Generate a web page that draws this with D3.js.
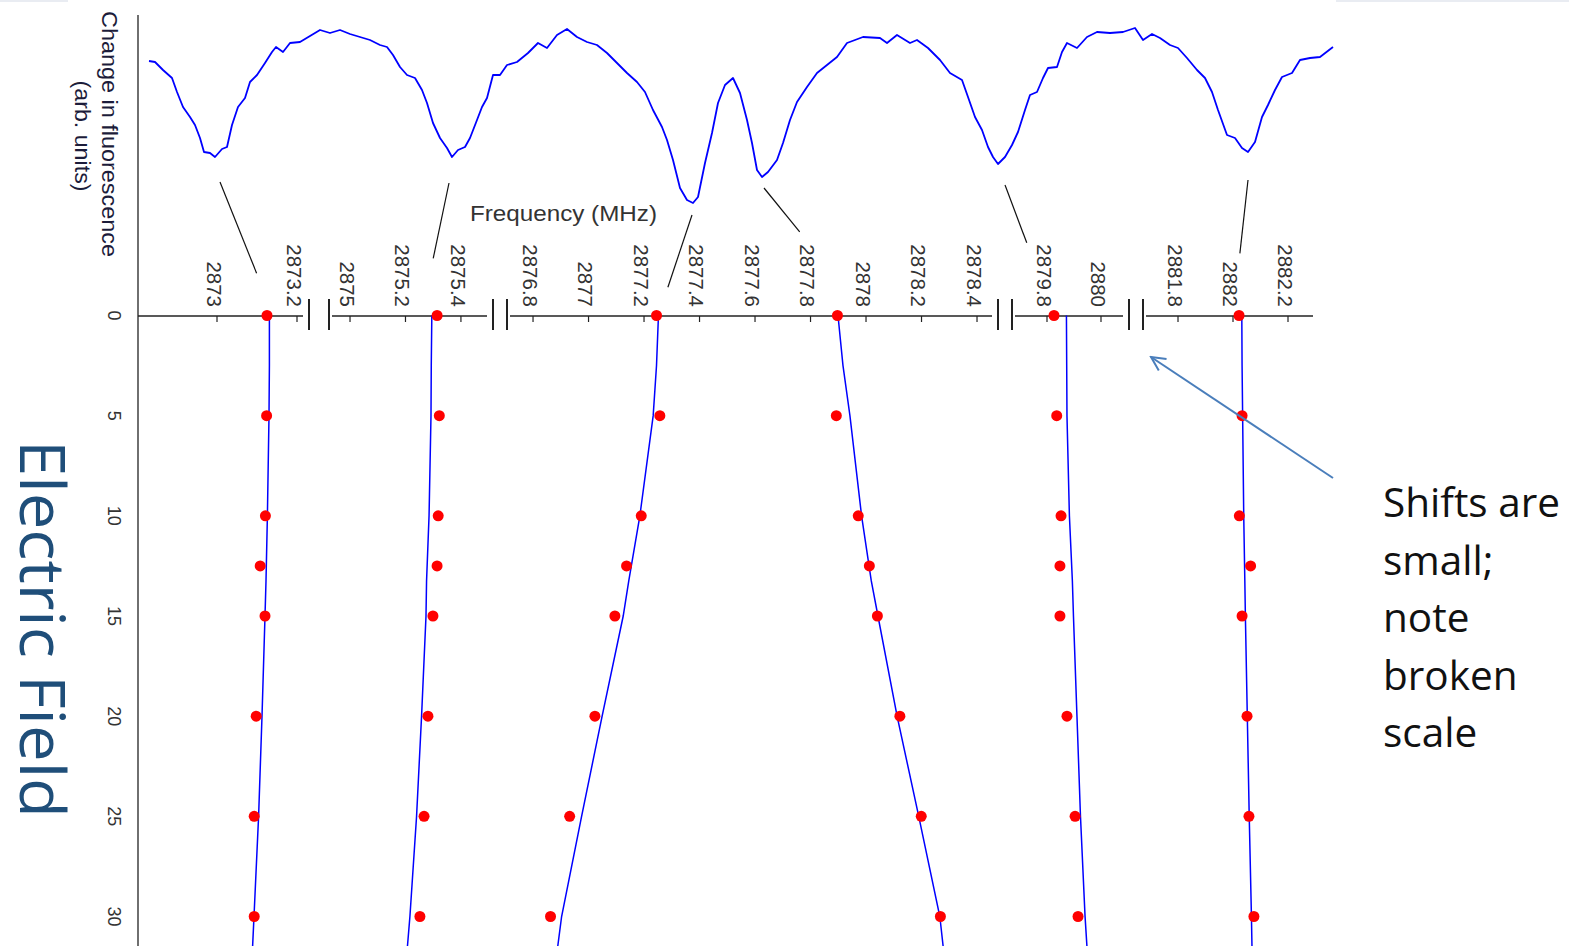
<!DOCTYPE html>
<html>
<head>
<meta charset="utf-8">
<script src="https://cdnjs.cloudflare.com/ajax/libs/d3/7.8.5/d3.min.js"></script>
<style>
  body { margin: 0; background: #fff; }
  svg { display: block; }
</style>
</head>
<body>
<svg id="chart"></svg>
<script>
// Field values (arb.) where peaks were measured
var fieldValues = [0, 5, 10, 12.5, 15, 20, 25, 30];
var fitFields = [0, 2.5, 5, 10, 13.25, 15, 20, 25, 30, 31.5];
var fieldTicks = [0, 5, 10, 15, 20, 25, 30];

// Measured peak positions (MHz), one array per resonance
var peak1 = [2873.125, 2873.124, 2873.121, 2873.108, 2873.120, 2873.098, 2873.093, 2873.093];
var peak2 = [2875.314, 2875.322, 2875.318, 2875.314, 2875.299, 2875.281, 2875.267, 2875.252];
var peak3 = [2877.245, 2877.257, 2877.190, 2877.137, 2877.095, 2877.023, 2876.932, 2876.863];
var peak4 = [2877.897, 2877.893, 2877.972, 2878.012, 2878.041, 2878.122, 2878.199, 2878.268];
var peak5 = [2879.826, 2879.836, 2879.852, 2879.848, 2879.848, 2879.874, 2879.904, 2879.915];
var peak6 = [2882.022, 2882.033, 2882.023, 2882.064, 2882.033, 2882.051, 2882.058, 2882.076];

// Fitted curves (MHz) at fitFields
var fit1 = [2873.131, 2873.131, 2873.130, 2873.126, 2873.1225, 2873.120, 2873.1125, 2873.104, 2873.0925, 2873.089];
var fit2 = [2875.295, 2875.293, 2875.292, 2875.285, 2875.276, 2875.274, 2875.258, 2875.240, 2875.216, 2875.207];
var fit3 = [2877.252, 2877.245, 2877.233, 2877.185, 2877.145, 2877.125, 2877.049, 2876.975, 2876.903, 2876.889];
var fit4 = [2877.899, 2877.917, 2877.942, 2877.984, 2878.019, 2878.043, 2878.112, 2878.190, 2878.266, 2878.278];
var fit5 = [2879.872, 2879.873, 2879.874, 2879.883, 2879.894, 2879.898, 2879.911, 2879.924, 2879.941, 2879.948];
var fit6 = [2882.032, 2882.033, 2882.035, 2882.039, 2882.043, 2882.045, 2882.052, 2882.059, 2882.067, 2882.069];

// Broken frequency axis: domains and tick labels per piece
var segDomains = [[2872.8025, 2873.215], [2874.935, 2875.494], [2876.717, 2878.454], [2879.6815, 2880.0815], [2881.6836, 2882.2909]];
var segTicks = [[2873, 2873.2], [2875, 2875.2, 2875.4],
  [2876.8, 2877, 2877.2, 2877.4, 2877.6, 2877.8, 2878, 2878.2, 2878.4],
  [2879.8, 2880], [2881.8, 2882, 2882.2]];

// Fluorescence sweep: [sweep step, signal]
var spectrum = [[0,142],[6,141],[14,133],[23,125],[28,111],[34,96],[41,86],[46,78],[51,65],[55,51],
  [61,50],[66,46],[73,54],[78,56],[83,78],[89,96],[96,105],[101,121],[108,128],[116,140],
  [123,151],[127,156],[134,151],[141,160],[151,161],[161,167],[171,173],[181,170],[191,173],[201,169],
  [211,166],[221,163],[231,158],[238,156],[244,148],[251,136],[258,128],[266,125],[273,113],[278,100],
  [284,80],[291,65],[298,55],[303,46],[309,53],[316,56],[321,65],[328,83],[333,96],[338,105],
  [344,128],[351,128],[358,138],[368,141],[379,150],[389,160],[398,155],[408,168],[418,174],[428,166],
  [438,161],[448,158],[458,150],[468,140],[478,130],[488,121],[496,111],[504,93],[513,76],[518,63],
  [524,43],[531,15],[538,3],[544,0],[549,6],[556,40],[563,70],[569,100],[576,118],[584,125],
  [591,110],[598,83],[603,60],[608,33],[613,26],[619,31],[628,43],[634,60],[641,83],[648,101],
  [658,116],[668,130],[678,138],[688,146],[698,160],[714,166],[731,165],[738,160],[748,168],[761,160],
  [768,163],[779,155],[791,143],[801,130],[813,123],[819,106],[826,86],[833,73],[839,56],[844,46],
  [849,39],[856,46],[863,58],[869,71],[876,93],[881,108],[888,111],[894,125],[899,135],[908,136],
  [913,151],[918,160],[928,155],[938,166],[948,171],[961,170],[974,171],[986,175],[994,163],[1003,169],
  [1011,165],[1021,158],[1029,155],[1038,145],[1048,133],[1056,125],[1063,111],[1069,93],[1078,68],[1086,65],
  [1093,55],[1099,51],[1106,61],[1113,86],[1119,98],[1126,113],[1133,126],[1143,130],[1151,143],[1161,145],
  [1171,146],[1184,156]];

// Links from each dip to its zero-field line: [sweep, signal, MHz, field]
var dipLinks = [[71, 33, 2873.099, -2.11], [300, 32, 2875.300, -2.85], [543, 0, 2877.286, -1.41],
  [615, 27, 2877.761, -4.18], [856, 30, 2879.725, -3.63], [1099, 35, 2882.025, -3.10]];

var noteLines = ['Shifts are', 'small;', 'note', 'broken', 'scale'];

var w = 1569, h = 946;
var axisY = 316;
var segRanges = [[138, 303], [332, 487], [510, 992], [1015, 1123], [1146, 1313]];

var svg = d3.select('#chart')
    .attr('width', w)
    .attr('height', h)
    .attr('font-family', 'Liberation Sans, Arial, sans-serif');

// scales
var segScales = segDomains.map(function(d, i) {
  return d3.scaleLinear().domain(d).range(segRanges[i]);
});
function fx(f) {
  for (var i = 0; i < segScales.length; i++) {
    var d = segDomains[i];
    if (f >= d[0] - 0.05 && f <= d[1] + 0.05) return segScales[i](f);
  }
  return null;
}
var fy = d3.scaleLinear().domain([0, 30]).range([315.5, 916.5]);
var sx = d3.scaleLinear().domain([0, 1184]).range([149, 1333]);
var sy = d3.scaleLinear().domain([0, 175]).range([203, 28]);

// faint edges from the slide image
svg.append('rect').attr('x', 0).attr('y', 0).attr('width', 68).attr('height', 2).attr('fill', '#e9ecf2');
svg.append('rect').attr('x', 1336).attr('y', 0).attr('width', 233).attr('height', 2).attr('fill', '#e9ecf2');

// left axis line
svg.append('line')
    .attr('x1', 138).attr('x2', 138)
    .attr('y1', 15).attr('y2', h)
    .attr('stroke', '#222').attr('stroke-width', 1.3);

// y titles
var ytitle = svg.append('g')
    .attr('fill', '#1c1c3a')
    .attr('font-size', 22.5)
    .attr('text-anchor', 'middle');
ytitle.append('text')
    .attr('transform', 'translate(110,134) rotate(90)')
    .attr('dy', '0.35em')
    .attr('textLength', 246)
    .attr('lengthAdjust', 'spacingAndGlyphs')
    .text('Change in fluorescence');
ytitle.append('text')
    .attr('transform', 'translate(83,136) rotate(90)')
    .attr('dy', '0.35em')
    .attr('textLength', 111)
    .attr('lengthAdjust', 'spacingAndGlyphs')
    .text('(arb. units)');

// field tick labels
svg.append('g').selectAll('text')
    .data(fieldTicks)
    .enter()
    .append('text')
    .attr('transform', function(d) { return 'translate(114,' + fy(d) + ') rotate(90)'; })
    .attr('dy', '0.35em')
    .attr('text-anchor', 'middle')
    .attr('font-size', 18)
    .attr('fill', '#333')
    .text(function(d) { return d; });

// broken frequency axis
var xaxis = svg.append('g');
segScales.forEach(function(s, i) {
  var r = segRanges[i];
  xaxis.append('line')
      .attr('x1', r[0]).attr('x2', r[1])
      .attr('y1', axisY).attr('y2', axisY)
      .attr('stroke', '#222').attr('stroke-width', 1.3);
  xaxis.selectAll('.t' + i)
      .data(segTicks[i])
      .enter()
      .append('line')
      .attr('x1', function(d) { return s(d); })
      .attr('x2', function(d) { return s(d); })
      .attr('y1', axisY).attr('y2', axisY + 6)
      .attr('stroke', '#222').attr('stroke-width', 1.2);
  xaxis.selectAll('.l' + i)
      .data(segTicks[i])
      .enter()
      .append('text')
      .attr('transform', function(d) { return 'translate(' + (s(d) - 3) + ',307) rotate(90)'; })
      .attr('dy', '0.35em')
      .attr('text-anchor', 'end')
      .attr('font-size', 20.5)
      .attr('fill', '#333')
      .text(function(d) { return d; });
  // break marks
  if (i < segScales.length - 1) {
    [r[1] + 6, segRanges[i + 1][0] - 3].forEach(function(bx) {
      xaxis.append('line')
          .attr('x1', bx).attr('x2', bx)
          .attr('y1', 299).attr('y2', 330)
          .attr('stroke', '#222').attr('stroke-width', 2);
    });
  }
});

svg.append('text')
    .attr('x', 470).attr('y', 221)
    .attr('font-size', 22.5)
    .attr('fill', '#333')
    .attr('textLength', 187)
    .attr('lengthAdjust', 'spacingAndGlyphs')
    .text('Frequency (MHz)');

// spectrum trace
svg.append('path')
    .datum(spectrum)
    .attr('fill', 'none')
    .attr('stroke', '#0000ff')
    .attr('stroke-width', 1.8)
    .attr('stroke-linejoin', 'round')
    .attr('d', d3.line()
      .x(function(d) { return sx(d[0]); })
      .y(function(d) { return sy(d[1]); }));

// dip connectors
svg.append('g').selectAll('line')
    .data(dipLinks)
    .enter()
    .append('line')
    .attr('x1', function(d) { return sx(d[0]); })
    .attr('y1', function(d) { return sy(d[1]) + 12; })
    .attr('x2', function(d) { return fx(d[2]); })
    .attr('y2', function(d) { return fy(d[3]); })
    .attr('stroke', '#111')
    .attr('stroke-width', 1.2);

// fitted lines
var fits = [fit1, fit2, fit3, fit4, fit5, fit6];
var fitLine = d3.line()
    .x(function(d) { return fx(d); })
    .y(function(d, i) { return fy(fitFields[i]); });
svg.append('g').selectAll('path')
    .data(fits)
    .enter()
    .append('path')
    .attr('fill', 'none')
    .attr('stroke', '#0000ff')
    .attr('stroke-width', 1.5)
    .attr('d', fitLine);

// measured peaks
var peaks = [peak1, peak2, peak3, peak4, peak5, peak6];
var dots = [];
peaks.forEach(function(p) {
  p.forEach(function(f, i) { dots.push([f, fieldValues[i]]); });
});
svg.append('g').selectAll('circle')
    .data(dots)
    .enter()
    .append('circle')
    .attr('cx', function(d) { return fx(d[0]); })
    .attr('cy', function(d) { return fy(d[1]); })
    .attr('r', 5.5)
    .attr('fill', '#ff0000');

// big axis label
svg.append('text')
    .attr('transform', 'translate(20,629) rotate(90)')
    .attr('text-anchor', 'middle')
    .attr('font-family', 'Open Sans, sans-serif')
    .attr('font-size', 62)
    .attr('fill', '#1f4e79')
    .attr('textLength', 378)
    .attr('lengthAdjust', 'spacingAndGlyphs')
    .text('Electric Field');

// note with arrow
var defs = svg.append('defs');
defs.append('marker')
    .attr('id', 'arrow')
    .attr('markerUnits', 'userSpaceOnUse')
    .attr('viewBox', '0 0 18 18')
    .attr('markerWidth', 18).attr('markerHeight', 18)
    .attr('refX', 16).attr('refY', 9)
    .attr('orient', 'auto')
    .append('path')
    .attr('d', 'M2,2 L16,9 L2,16')
    .attr('fill', 'none')
    .attr('stroke', '#4a7ebb')
    .attr('stroke-width', 2);
svg.append('line')
    .attr('x1', 1333).attr('y1', 478)
    .attr('x2', 1151).attr('y2', 357)
    .attr('stroke', '#4a7ebb')
    .attr('stroke-width', 2)
    .attr('marker-end', 'url(#arrow)');

svg.append('g').selectAll('text')
    .data(noteLines)
    .enter()
    .append('text')
    .attr('x', 1383)
    .attr('y', function(d, i) { return 517 + i * 57.5; })
    .attr('font-family', 'Open Sans, sans-serif')
    .attr('font-size', 40.5)
    .attr('fill', '#111')
    .text(function(d) { return d; });
</script>
</body>
</html>
